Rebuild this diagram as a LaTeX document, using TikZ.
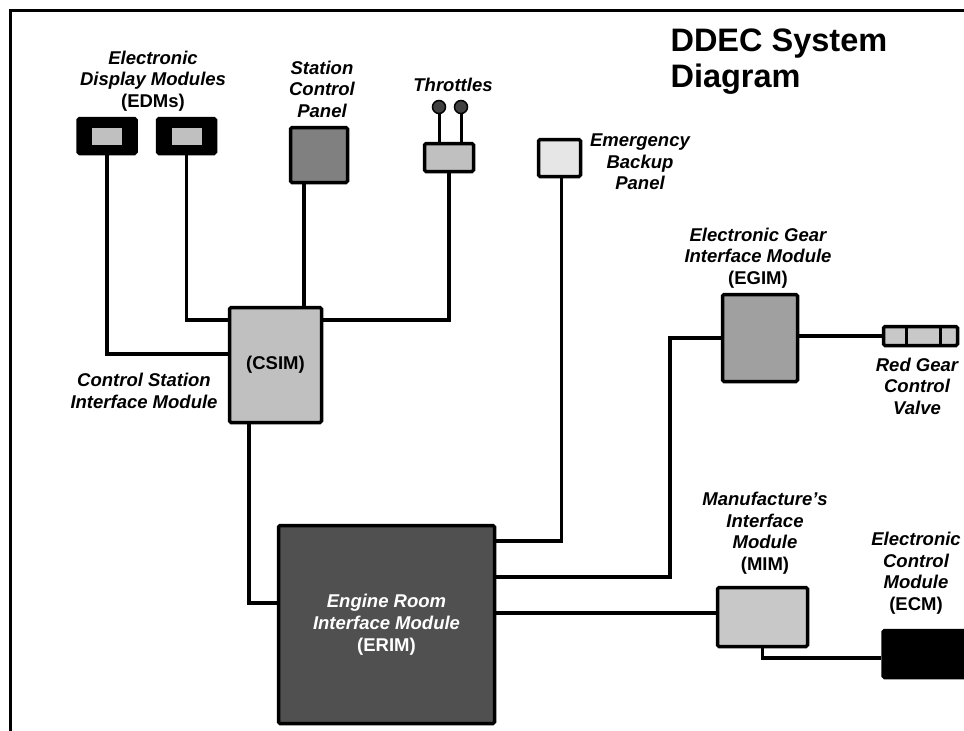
\documentclass[tikz,border=0pt]{standalone}
\usepackage{fontspec}
\setmainfont{Liberation Sans}
\usetikzlibrary{positioning}
\definecolor{screengray}{HTML}{C0C0C0}
\definecolor{panelgray}{HTML}{808080}
\definecolor{palegray}{HTML}{E6E6E6}
\definecolor{midgray}{HTML}{A0A0A0}
\definecolor{lightgray}{HTML}{C8C8C8}
\definecolor{darkgray}{HTML}{505050}
\definecolor{knobgray}{HTML}{404040}

\begin{document}
\begin{tikzpicture}[x=1pt,y=-1pt,
  box/.style={draw,line width=3.5pt,rounded corners=1.5pt,inner sep=0pt},
  screen/.style={fill=screengray,minimum width=30pt,minimum height=17pt,inner sep=0pt},
  knob/.style={circle,draw,fill=knobgray,line width=1.5pt,minimum size=13pt,inner sep=0pt},
  wire/.style={line width=3.5pt},
  lbl/.style={font=\fontsize{18.5}{21.5}\selectfont\bfseries\itshape,align=center,inner sep=0pt}]
\useasboundingbox (0,0) rectangle (964,731);
\draw[wire] (10.5,731) -- (10.5,10.5) -- (964,10.5);

% panels at the top
\node[box,fill=black,minimum width=58pt,minimum height=35pt] (edmA) at (107,136) {};
\node[screen] (edmAscr) at (edmA) {};
\node[box,fill=black,minimum width=58pt,minimum height=35pt] (edmB) at (186.5,136) {};
\node[screen] (edmBscr) at (edmB) {};
\node[box,fill=panelgray,minimum width=57pt,minimum height=55pt] (scp) at (319,155) {};
\node[box,fill=screengray,minimum width=49pt,minimum height=28pt] (thr) at (449,157.5) {};
\node[knob] (knobA) at (439,107) {};
\node[knob] (knobB) at (461,107) {};
\node[box,fill=palegray,minimum width=42pt,minimum height=37pt] (ebp) at (559.5,158) {};

% modules
\node[box,fill=screengray,minimum width=92pt,minimum height=115pt,
  font=\fontsize{18.5}{21.5}\selectfont\bfseries] (csim) at (275.5,365) {(CSIM)};
\node[box,fill=midgray,minimum width=75pt,minimum height=87pt] (egim) at (760,338) {};
\node[box,fill=lightgray,minimum width=74pt,minimum height=19pt] (valve) at (920.5,336) {};
\node[box,fill=darkgray,minimum width=216pt,minimum height=198pt,
  font=\fontsize{18.5}{22}\selectfont\bfseries\itshape,text=white,align=center] (erim) at (386.5,624.5)
  {Engine Room\\Interface Module\\\upshape(ERIM)};
\node[box,fill=lightgray,minimum width=90pt,minimum height=59pt] (mim) at (762.5,617) {};
\node[box,fill=black,minimum width=100pt,minimum height=47pt] (ecm) at (933,654) {};

% labels
\node[font=\fontsize{32.5}{36}\selectfont\bfseries,align=left,anchor=west] (title) at (667,62) {DDEC System\\Diagram};
\node[lbl] (edmlbl) at (153,81) {Electronic\\Display Modules\\\upshape(EDMs)};
\node[lbl] (scplbl) at (322,89) {Station\\Control\\Panel};
\node[lbl] (thrlbl) at (453,85) {Throttles};
\node[lbl] (ebplbl) at (640,162) {Emergency\\Backup\\Panel};
\node[lbl] (egimlbl) at (758,258) {Electronic Gear\\Interface Module\\\upshape(EGIM)};
\node[lbl] (valvelbl) at (917,386) {Red Gear\\Control\\Valve};
\node[lbl] (csimlbl) at (144,391) {Control Station\\Interface Module};
\node[lbl] (mimlbl) at (765,533) {Manufacture’s\\Interface\\Module\\\upshape(MIM)};
\node[lbl] (ecmlbl) at (916,573) {Electronic\\Control\\Module\\\upshape(ECM)};

% wiring
\coordinate (scpout) at ([xshift=-15pt]scp.south);
\coordinate (csimout) at ([xshift=-26.5pt]csim.south);
\coordinate (egimin) at ([xshift=-51pt]egim.west);
\draw[line width=3pt] (knobA.south) -- (knobA.south |- thr.north);
\draw[line width=3pt] (knobB.south) -- (knobB.south |- thr.north);
\draw[wire] (edmA.south) |- ([yshift=11pt]csim.west);
\draw[wire] (edmB.south) |- ([yshift=45pt]csim.west);
\draw[wire] (scpout) -- (scpout |- csim.north);
\draw[wire] (thr.south) |- ([yshift=45pt]csim.east);
\draw[wire] (csimout) |- ([yshift=21.5pt]erim.west);
\draw[wire] ([yshift=-17pt]erim.north east) -| ([xshift=2pt]ebp.south);
\draw[wire] ([yshift=-53pt]erim.north east) -| (egimin) -- (egim.west);
\draw[wire] (valve.west -| egim.east) -- (valve.west);
\draw[line width=3pt] ([xshift=-14.5pt]valve.north) -- ([xshift=-14.5pt]valve.south);
\draw[line width=3pt] ([xshift=19.5pt]valve.north) -- ([xshift=19.5pt]valve.south);
\draw[wire] ([yshift=4pt]mim.west -| erim.east) -- ([yshift=4pt]mim.west);
\draw[wire] (mim.south) |- ([yshift=-4pt]ecm.west);
\end{tikzpicture}
\end{document}
